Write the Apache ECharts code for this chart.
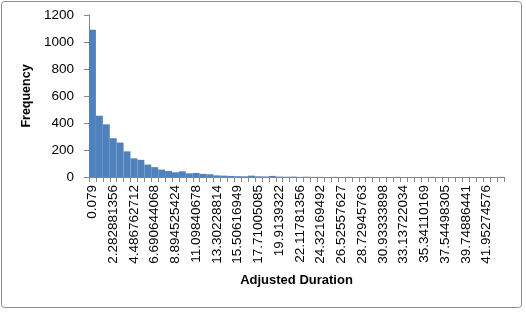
<!DOCTYPE html>
<html>
<head>
<meta charset="utf-8">
<script src="https://cdn.jsdelivr.net/npm/echarts@6/dist/echarts.min.js"></script>
<style>
html,body{margin:0;padding:0;background:#fff;}
#c{width:526px;height:328px;}
</style>
</head>
<body>
<div id="c"></div>
<script>
var categories = ["0.079","0.813627119","1.548254237","2.282881356","3.017508475","3.752135593","4.486762712","5.221389831","5.956016949","6.690644068","7.425271187","8.159898305","8.894525424","9.629152542","10.36377966","11.09840678","11.8330339","12.56766102","13.30228814","14.03691525","14.77154237","15.50616949","16.24079661","16.97542373","17.71005085","18.44467797","19.17930508","19.9139322","20.64855932","21.38318644","22.11781356","22.85244068","23.5870678","24.32169492","25.05632203","25.79094915","26.52557627","27.26020339","27.99483051","28.72945763","29.46408475","30.19871186","30.93333898","31.6679661","32.40259322","33.13722034","33.87184746","34.60647458","35.34110169","36.07572881","36.81035593","37.54498305","38.27961017","39.01423729","39.74886441","40.48349153","41.21811864","41.95274576","42.68737288","43.422"];
var frequency = [1090,454,390,287,255,190,138,127,92,73,55,45,35,42,27,30,23,20,12,10,8,6,5,10,5,4,8,3,2,3,1,2,1,1,0,1,0,1,0,0,1,0,0,0,1,0,0,0,0,1,0,0,0,0,0,0,0,0,0,1];
var yTicks = {min:0, max:1200, interval:200};

var chart = echarts.init(document.getElementById('c'), null, {renderer:'canvas'});
var font = "'Liberation Sans', Arial, sans-serif";
chart.setOption({
  animation:false,
  backgroundColor:'#fff',
  graphic:[{type:'rect', shape:{x:1.5,y:1.5,width:520,height:306,r:3}, style:{fill:'none',stroke:'#8c8c8c',lineWidth:1}}],
  grid:{left:89,right:22,top:15,bottom:151},
  xAxis:{
    type:'category', data:categories,
    name:'Adjusted Duration', nameLocation:'middle', nameGap:97,
    nameTextStyle:{fontFamily:font,fontWeight:'bold',fontSize:13,color:'#000'},
    axisLine:{lineStyle:{color:'#868686',width:1}},
    axisTick:{show:true,interval:0,length:5,lineStyle:{color:'#868686'}},
    axisLabel:{interval:2,rotate:90,fontFamily:font,fontSize:13.5,color:'#000',margin:8}
  },
  yAxis:{
    type:'value', min:yTicks.min, max:yTicks.max, interval:yTicks.interval,
    name:'Frequency', nameLocation:'middle', nameGap:48, nameRotate:90,
    nameTextStyle:{fontFamily:font,fontWeight:'bold',fontSize:12.5,color:'#000'},
    axisLine:{show:true,lineStyle:{color:'#868686',width:1}},
    axisTick:{show:true,length:5,lineStyle:{color:'#868686'}},
    splitLine:{show:false},
    axisLabel:{fontFamily:font,fontSize:13.5,color:'#000',margin:15,formatter:function(v){return String(v);}}
  },
  series:[{type:'bar', data:frequency, barCategoryGap:'0%', itemStyle:{color:'#4F81BD'}}]
});
</script>
</body>
</html>
